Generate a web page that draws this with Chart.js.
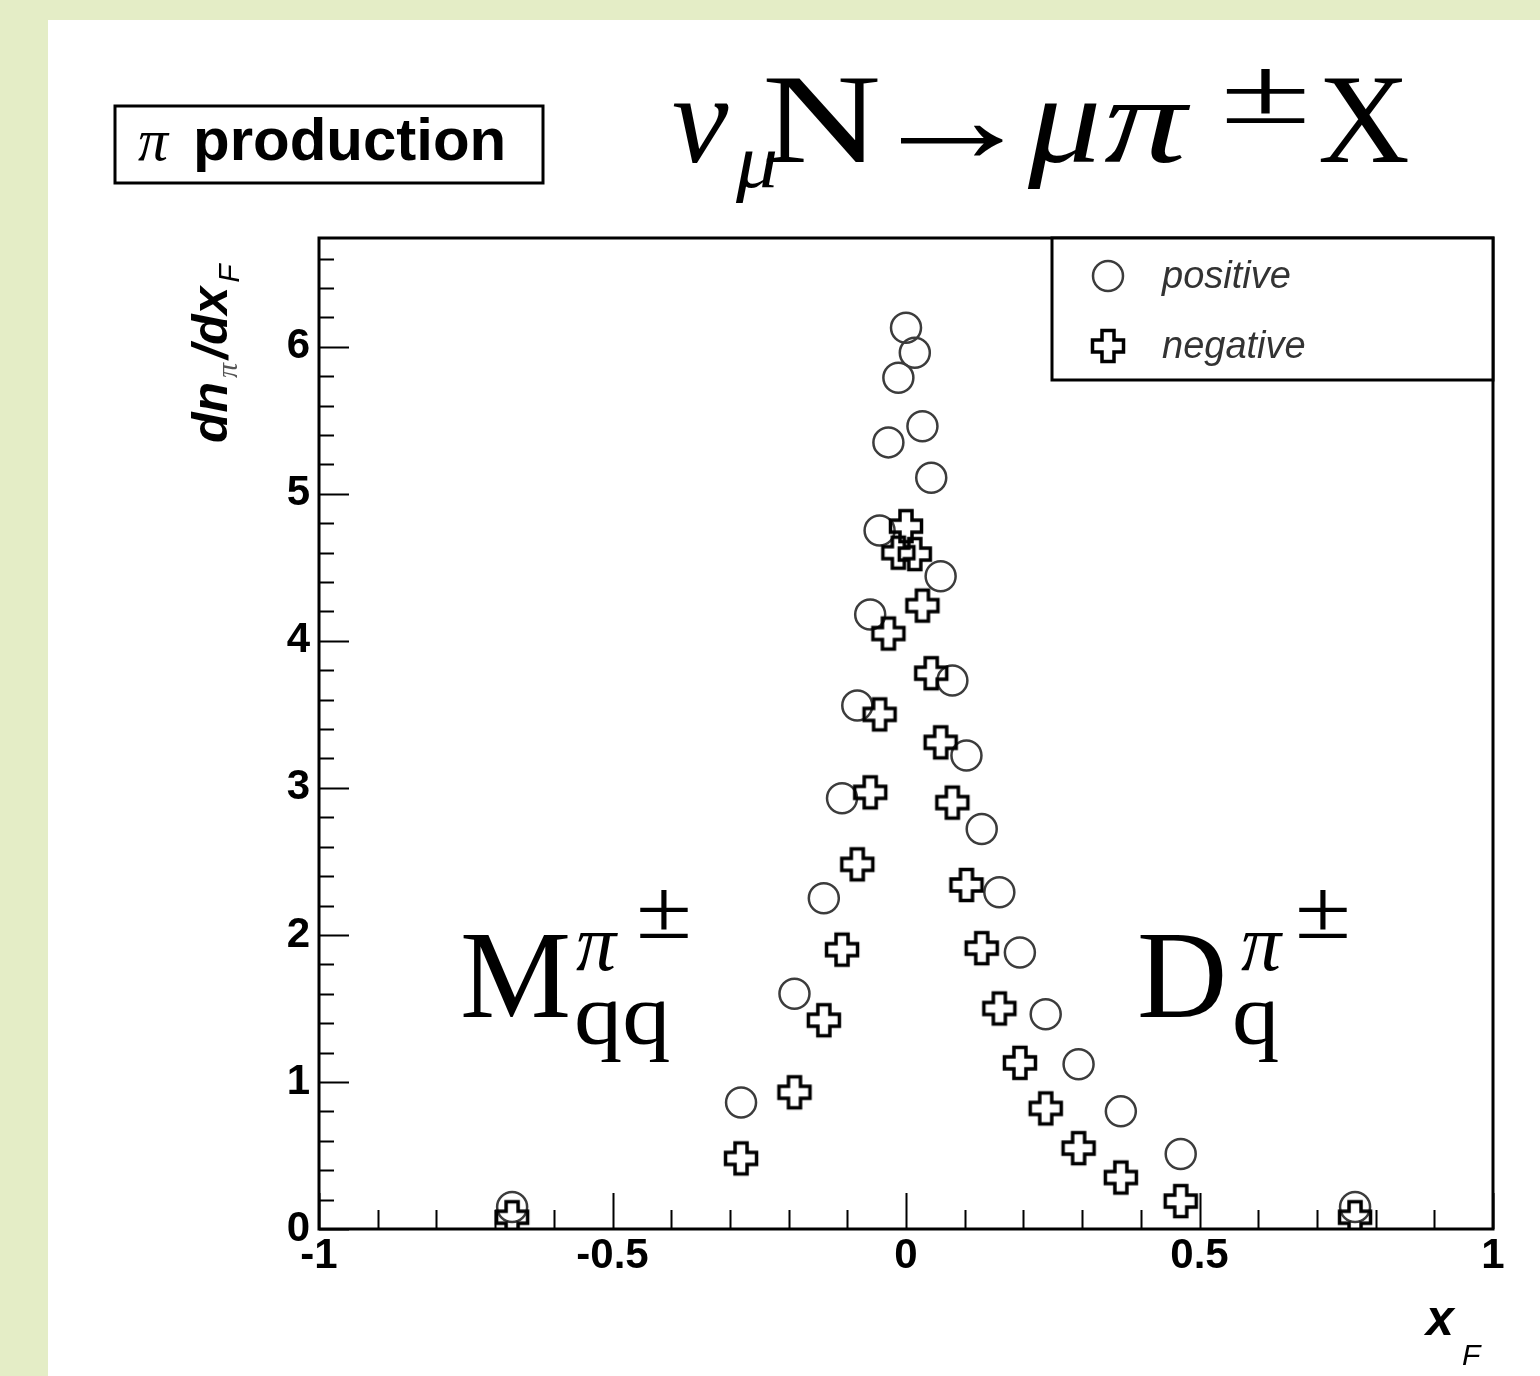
<!DOCTYPE html>
<html>
<head>
<meta charset="utf-8">
<script src="https://cdn.jsdelivr.net/npm/chart.js@4"></script>
<style>
  html, body { margin: 0; padding: 0; width: 1540px; height: 1376px; overflow: hidden; background: #e4edc6; }
  canvas { display: block; }
</style>
</head>
<body>
<canvas id="xfChart" width="1540" height="1376"></canvas>
<script>
// xF bins shared by both charge samples
const xF = [-0.671, -0.281, -0.190, -0.140, -0.109, -0.083, -0.061, -0.045, -0.030, -0.013,
  0.000, 0.015, 0.028, 0.043, 0.059, 0.079, 0.103, 0.129, 0.159, 0.194,
  0.238, 0.294, 0.366, 0.468, 0.765];

// dn/dxF for pi+ and pi-
const positiveYield = [0.15, 0.86, 1.60, 2.25, 2.93, 3.56, 4.18, 4.75, 5.35, 5.79,
  6.13, 5.96, 5.46, 5.11, 4.44, 3.73, 3.22, 2.72, 2.29, 1.88,
  1.46, 1.12, 0.80, 0.51, 0.15];
const negativeYield = [0.08, 0.48, 0.93, 1.42, 1.90, 2.48, 2.97, 3.50, 4.05, 4.60,
  4.78, 4.59, 4.24, 3.78, 3.31, 2.90, 2.34, 1.91, 1.50, 1.13,
  0.82, 0.55, 0.35, 0.19, 0.08];

const seriesNames = ['positive', 'negative'];
const xLabelTicks = [-1, -0.5, 0, 0.5, 1];
const yLabelTicks = [0, 1, 2, 3, 4, 5, 6];

const X_MIN = -1, X_MAX = 1, X_MINOR = 0.1;
const Y_MIN = 0, Y_MAX = 6.74, Y_MINOR = 0.2;

// open cross marker (ROOT style 28)
function makeOpenCross(size, arm, lw) {
  const c = document.createElement('canvas');
  c.width = size + lw * 2;
  c.height = size + lw * 2;
  const g = c.getContext('2d');
  const o = lw, a = (size - arm) / 2;
  g.beginPath();
  g.moveTo(o + a, o);
  g.lineTo(o + a + arm, o);
  g.lineTo(o + a + arm, o + a);
  g.lineTo(o + size, o + a);
  g.lineTo(o + size, o + a + arm);
  g.lineTo(o + a + arm, o + a + arm);
  g.lineTo(o + a + arm, o + size);
  g.lineTo(o + a, o + size);
  g.lineTo(o + a, o + a + arm);
  g.lineTo(o, o + a + arm);
  g.lineTo(o, o + a);
  g.lineTo(o + a, o + a);
  g.closePath();
  g.lineWidth = lw;
  g.strokeStyle = '#000';
  g.stroke();
  return c;
}
const crossMarker = makeOpenCross(31, 12, 3.5);

const CIRCLE_R = 15;
const CIRCLE_COLOR = '#3c3c3c';

// page background + white pad
const padBackground = {
  id: 'padBackground',
  beforeDraw(chart) {
    const g = chart.ctx;
    g.save();
    g.fillStyle = '#e4edc6';
    g.fillRect(0, 0, chart.width, chart.height);
    g.fillStyle = '#ffffff';
    g.fillRect(48, 20, chart.width - 48, chart.height - 20);
    g.restore();
  },
};

// frame and inward ticks, drawn under the markers
const frameTicks = {
  id: 'frameTicks',
  beforeDatasetsDraw(chart) {
    const g = chart.ctx;
    const { left, right, top, bottom } = chart.chartArea;
    const xs = chart.scales.x, ys = chart.scales.y;
    g.save();
    g.strokeStyle = '#000';
    g.lineWidth = 2;
    g.beginPath();
    for (let i = 0; X_MIN + i * X_MINOR <= X_MAX + 1e-9; i++) {
      const v = X_MIN + i * X_MINOR;
      const px = Math.round(xs.getPixelForValue(v)) + 0.5;
      const major = xLabelTicks.some((t) => Math.abs(t - v) < 1e-6);
      g.moveTo(px, bottom);
      g.lineTo(px, bottom - (major ? 36 : 19));
    }
    for (let i = 0; Y_MIN + i * Y_MINOR <= Y_MAX + 1e-9; i++) {
      const v = Y_MIN + i * Y_MINOR;
      const py = Math.round(ys.getPixelForValue(v)) + 0.5;
      const major = yLabelTicks.some((t) => Math.abs(t - v) < 1e-6);
      g.moveTo(left, py);
      g.lineTo(left + (major ? 30 : 15), py);
    }
    g.stroke();
    g.lineWidth = 3;
    g.strokeRect(left, top, right - left, bottom - top);
    g.restore();
  },
};

// legend box in the upper right corner of the frame
const boxLegend = {
  id: 'boxLegend',
  afterDatasetsDraw(chart) {
    const g = chart.ctx;
    const { right, top } = chart.chartArea;
    const x0 = 1052, y0 = top, w = right - x0, h = 142;
    g.save();
    g.fillStyle = '#fff';
    g.fillRect(x0, y0, w, h);
    g.strokeStyle = '#000';
    g.lineWidth = 3;
    g.strokeRect(x0, y0, w, h);

    g.lineWidth = 2.5;
    g.strokeStyle = CIRCLE_COLOR;
    g.beginPath();
    g.arc(1108, 276, CIRCLE_R, 0, Math.PI * 2);
    g.stroke();
    g.drawImage(crossMarker, 1108 - crossMarker.width / 2, 346 - crossMarker.height / 2);

    g.fillStyle = '#333';
    g.font = 'italic 38px "Liberation Sans"';
    g.textBaseline = 'middle';
    g.fillText(seriesNames[0], 1162, 277);
    g.fillText(seriesNames[1], 1162, 347);
    g.restore();
  },
};

// text pieces: [text, font, x, y, horizontal stretch]
function drawRuns(g, runs) {
  runs.forEach(([text, font, x, y, sx]) => {
    g.save();
    g.font = font;
    g.fillStyle = '#000';
    g.translate(x, y);
    g.scale(sx || 1, 1);
    g.fillText(text, 0, 0);
    g.restore();
  });
}

// title box, reaction formula, annotations and axis titles
const pageText = {
  id: 'pageText',
  afterDraw(chart) {
    const g = chart.ctx;
    g.save();
    g.textBaseline = 'alphabetic';
    g.textAlign = 'left';

    g.strokeStyle = '#000';
    g.lineWidth = 3;
    g.strokeRect(115, 106, 428, 77);
    const serif = '"Liberation Serif", "DejaVu Serif", serif';
    drawRuns(g, [
      ['π', `italic 60px ${serif}`, 138, 160],
      ['production', 'bold 60px "Liberation Sans"', 193, 160],
    ]);

    // nu_mu N -> mu pi^{+-} X
    drawRuns(g, [
      ['ν', `italic 127px ${serif}`, 672, 162],
      ['μ', `italic 76px ${serif}`, 736, 187, 1.1],
      ['N', `127px ${serif}`, 762, 162, 1.3],
      ['→', `127px ${serif}`, 866, 162, 1.35],
      ['μ', `italic 127px ${serif}`, 1028, 162, 1.15],
      ['π', `italic 122px ${serif}`, 1104, 162, 1.35],
      ['±', `95px ${serif}`, 1220, 123, 1.75],
      ['X', `127px ${serif}`, 1318, 162],
    ]);

    // M_qq^{pi+-} and D_q^{pi+-}
    drawRuns(g, [
      ['M', `125px ${serif}`, 460, 1017],
      ['π', `italic 80px ${serif}`, 576, 970],
      ['±', `85px ${serif}`, 636, 938, 1.2],
      ['qq', `86px ${serif}`, 574, 1043, 1.12],
      ['D', `125px ${serif}`, 1137, 1017],
      ['π', `italic 80px ${serif}`, 1241, 970],
      ['±', `85px ${serif}`, 1295, 938, 1.2],
      ['q', `86px ${serif}`, 1232, 1043, 1.1],
    ]);

    // x axis title
    drawRuns(g, [
      ['x', 'bold italic 50px "Liberation Sans"', 1426, 1335],
      ['F', 'italic 30px "Liberation Sans"', 1462, 1365],
    ]);

    // y axis title, rotated
    g.translate(227, 443);
    g.rotate(-Math.PI / 2);
    let cx = 0;
    const yRuns = [
      ['dn', 'bold italic 50px "Liberation Sans"', 0, '#000'],
      ['π', 'italic 30px "Liberation Serif"', 10, '#555'],
      ['/dx', 'bold italic 50px "Liberation Sans"', 0, '#000'],
      ['F', 'italic 30px "Liberation Sans"', 12, '#000'],
    ];
    yRuns.forEach(([text, font, dy, color]) => {
      g.font = font;
      g.fillStyle = color;
      g.fillText(text, cx, dy);
      cx += g.measureText(text).width + 4;
    });
    g.restore();
  },
};

const tickFont = { family: '"Liberation Sans"', size: 42, weight: 'bold' };

new Chart(document.getElementById('xfChart'), {
  type: 'scatter',
  data: {
    datasets: [
      {
        label: seriesNames[0],
        data: xF.map((x, i) => ({ x, y: positiveYield[i] })),
        pointStyle: 'circle',
        pointRadius: CIRCLE_R,
        borderWidth: 2.5,
        borderColor: CIRCLE_COLOR,
        backgroundColor: 'rgba(0,0,0,0)',
        order: 2,
      },
      {
        label: seriesNames[1],
        data: xF.map((x, i) => ({ x, y: negativeYield[i] })),
        pointStyle: crossMarker,
        order: 1,
      },
    ],
  },
  options: {
    responsive: false,
    animation: false,
    events: [],
    layout: { padding: { top: 238, right: 47, bottom: 0, left: 0 } },
    scales: {
      x: {
        type: 'linear',
        min: X_MIN,
        max: X_MAX,
        afterBuildTicks: (s) => { s.ticks = xLabelTicks.map((v) => ({ value: v })); },
        afterFit: (s) => { s.height = 147; },
        ticks: {
          font: tickFont,
          color: '#000',
          padding: 2,
          maxRotation: 0,
          autoSkip: false,
          callback: (v) => String(v),
        },
        grid: { display: false, drawTicks: false },
        border: { display: false },
      },
      y: {
        type: 'linear',
        min: Y_MIN,
        max: Y_MAX,
        afterBuildTicks: (s) => { s.ticks = yLabelTicks.map((v) => ({ value: v })); },
        afterFit: (s) => { s.width = 319; },
        ticks: {
          font: tickFont,
          color: '#000',
          padding: 9,
          autoSkip: false,
          callback: (v) => String(v),
        },
        grid: { display: false, drawTicks: false },
        border: { display: false },
      },
    },
    plugins: {
      legend: { display: false },
      tooltip: { enabled: false },
    },
  },
  plugins: [padBackground, frameTicks, boxLegend, pageText],
});
</script>
</body>
</html>
